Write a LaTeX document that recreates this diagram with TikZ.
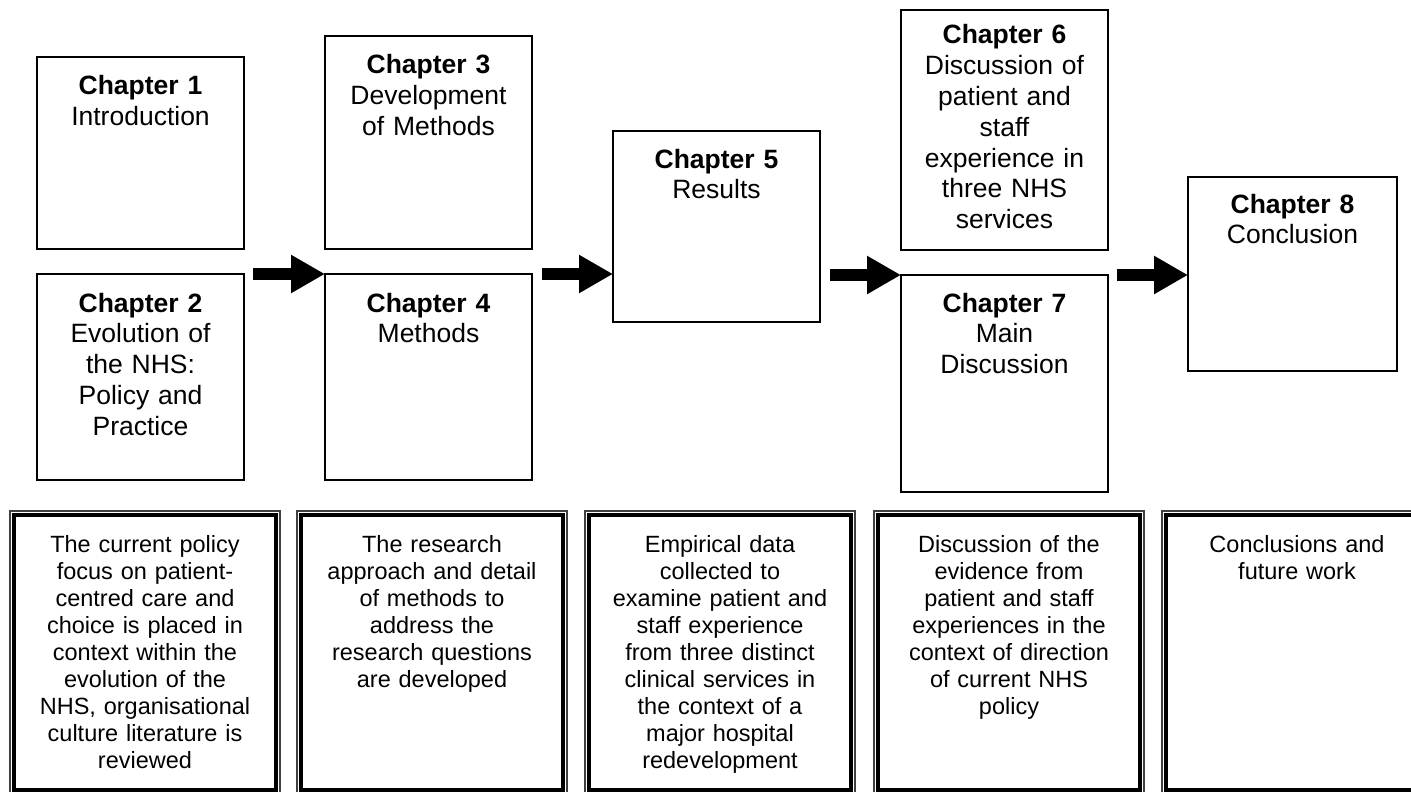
\documentclass[tikz,border=0pt]{standalone}
\usepackage{fontspec}
\setmainfont{Liberation Sans}
\usetikzlibrary{arrows.meta}
\begin{document}
\begin{tikzpicture}[x=1pt,y=-1pt,
  chbox/.style={draw=black, line width=2.4pt, inner sep=0pt, outer sep=0pt, fill=white},
  chtext/.style={anchor=base, inner sep=0pt, text width=205pt, align=center,
                 font=\fontsize{26.5}{30.8}\selectfont},
  outerbox/.style={draw=black!75, line width=1.1pt, inner sep=0pt, outer sep=0pt,
                   minimum width=270pt, minimum height=283pt, anchor=north west},
  innerbox/.style={draw=black, line width=3.8pt, inner sep=0pt, outer sep=0pt,
                   minimum width=261.4pt, minimum height=274.4pt},
  sumtext/.style={anchor=base, inner sep=0pt, text width=262pt, align=center,
                  font=\fontsize{23.5}{27}\selectfont},
  bigarrow/.style={line width=12pt, -{Triangle[length=34pt,width=36pt]}}
]
\useasboundingbox[fill=white] (0,0) rectangle (1411,792);

% chapter boxes
\node[chbox, minimum width=207pt, minimum height=192pt, anchor=north west] (b1) at (37,57) {};
\node[chbox, minimum width=207pt, minimum height=206pt, anchor=north west] (b2) at (37,274) {};
\node[chbox, minimum width=207pt, minimum height=213pt, anchor=north west] (b3) at (325,36) {};
\node[chbox, minimum width=207pt, minimum height=206pt, anchor=north west] (b4) at (325,274) {};
\node[chbox, minimum width=207pt, minimum height=191pt, anchor=north west] (b5) at (613,131) {};
\node[chbox, minimum width=207pt, minimum height=240pt, anchor=north west] (b6) at (901,10) {};
\node[chbox, minimum width=207pt, minimum height=217pt, anchor=north west] (b7) at (901,275) {};
\node[chbox, minimum width=209pt, minimum height=194pt, anchor=north west] (b8) at (1188,177) {};

\node[chtext] (t1) at (140.5,94.5) {\textbf{Chapter 1}\\Introduction};
\node[chtext] (t2) at (140.5,312) {\textbf{Chapter 2}\\Evolution of\\the NHS:\\Policy and\\Practice};
\node[chtext] (t3) at (428.5,73.5) {\textbf{Chapter 3}\\Development\\of Methods};
\node[chtext] (t4) at (428.5,312) {\textbf{Chapter 4}\\Methods};
\node[chtext] (t5) at (716.5,168) {\textbf{Chapter 5}\\Results};
\node[chtext] (t6) at (1004.5,44) {\textbf{Chapter 6}\\Discussion of\\patient and\\staff\\experience in\\three NHS\\services};
\node[chtext] (t7) at (1004.5,312) {\textbf{Chapter 7}\\Main\\Discussion};
\node[chtext] (t8) at (1292.5,213) {\textbf{Chapter 8}\\Conclusion};

% arrows
\coordinate (a1s) at ([xshift=9pt]b2.north east);
\coordinate (a2s) at ([xshift=10pt]b4.north east);
\coordinate (a3s) at ([xshift=10pt]b5.east |- b7.north);
\coordinate (a4s) at ([xshift=9pt]b7.north east);
\draw[bigarrow] (a1s) -- (b4.north west);
\draw[bigarrow] (a2s) -- (b4.north east -| b5.west);
\draw[bigarrow] (a3s) -- (b7.north west);
\draw[bigarrow] (a4s) -- (b7.north east -| b8.west);

% summary boxes
\node[outerbox] (oA) at (10,511) {};
\node[outerbox] (oB) at (297,511) {};
\node[outerbox] (oC) at (585,511) {};
\node[outerbox] (oD) at (874,511) {};
\node[outerbox] (oE) at (1162,511) {};
\node[innerbox] (iA) at (oA.center) {};
\node[innerbox] (iB) at (oB.center) {};
\node[innerbox] (iC) at (oC.center) {};
\node[innerbox] (iD) at (oD.center) {};
\node[innerbox] (iE) at (oE.center) {};

\node[sumtext] (sA) at (oA.north |- 0,552) {The current policy\\focus on patient-\\centred care and\\choice is placed in\\context within the\\evolution of the\\NHS, organisational\\culture literature is\\reviewed};
\node[sumtext] (sB) at (oB.north |- 0,552) {The research\\approach and detail\\of methods to\\address the\\research questions\\are developed};
\node[sumtext] (sC) at (oC.north |- 0,552) {Empirical data\\collected to\\examine patient and\\staff experience\\from three distinct\\clinical services in\\the context of a\\major hospital\\redevelopment};
\node[sumtext] (sD) at (oD.north |- 0,552) {Discussion of the\\evidence from\\patient and staff\\experiences in the\\context of direction\\of current NHS\\policy};
\node[sumtext] (sE) at (oE.north |- 0,552) {Conclusions and\\future work};
\end{tikzpicture}
\end{document}
